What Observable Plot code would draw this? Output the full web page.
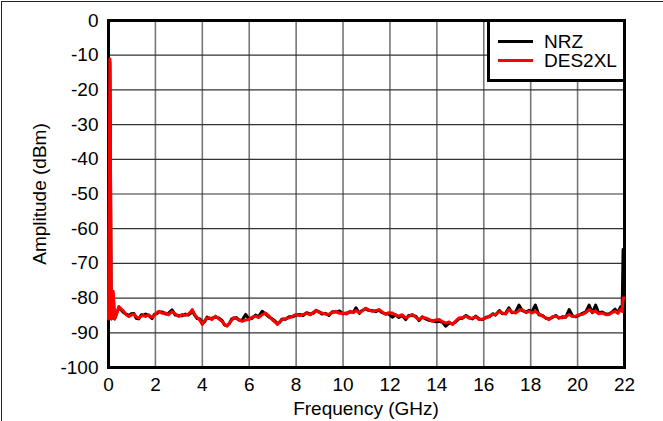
<!DOCTYPE html>
<html>
<head>
<meta charset="utf-8">
<script src="https://cdn.jsdelivr.net/npm/d3@7"></script>
<script src="https://cdn.jsdelivr.net/npm/@observablehq/plot@0.6"></script>
<style>
  html, body { margin: 0; padding: 0; background: #fff; }
  #wrap { position: relative; width: 663px; height: 421px; overflow: hidden; font-family: 'Liberation Sans', Arial, sans-serif; }
  #edge { position: absolute; left: 1px; top: 1px; right: -10px; bottom: -10px; border-top: 1px solid #222; border-left: 1px solid #222; pointer-events: none; }
  #legend { position: absolute; left: 487px; top: 19px; width: 139px; height: 63px; box-sizing: border-box; border: 3px solid #000; background: #fff; }
  #legend .sw { position: absolute; left: 8px; width: 35px; height: 3px; }
  #legend .tx { position: absolute; left: 54px; font-size: 19px; line-height: 19px; color: #000; white-space: nowrap; }
  .axlab { position: absolute; font-size: 19px; line-height: 19px; color: #000; white-space: nowrap; }
  #xlab { left: 366px; top: 399px; transform: translateX(-50%); }
  #ylab { left: 39px; top: 194px; transform: translate(-50%, -50%) rotate(-90deg); }
</style>
</head>
<body>
<div id="wrap">
  <div id="chart"></div>
  <div id="legend">
    <div class="sw" style="top:18px;background:#000"></div>
    <div class="tx" style="top:10px">NRZ</div>
    <div class="sw" style="top:37px;background:#ff0000"></div>
    <div class="tx" style="top:29px">DES2XL</div>
  </div>
  <div class="axlab" id="xlab">Frequency (GHz)</div>
  <div class="axlab" id="ylab">Amplitude (dBm)</div>
  <div id="edge"></div>
</div>
<script>
// Frequency (GHz) sample positions
const freq = [
  0, 0.06, 0.12, 0.2, 0.26, 0.35, 0.44, 0.55, 0.65, 0.75, 0.87, 0.97,
  1.08, 1.18, 1.29, 1.4, 1.5, 1.58, 1.7, 1.86, 1.95,
  2.05, 2.15, 2.3, 2.43, 2.55, 2.71, 2.85,
  3.0, 3.15, 3.28, 3.4, 3.5, 3.57, 3.68, 3.78, 3.9,
  4.0, 4.1, 4.2, 4.28, 4.4, 4.56, 4.7, 4.85, 4.95,
  5.06, 5.15, 5.25, 5.34, 5.45, 5.56, 5.7, 5.85, 5.98,
  6.1, 6.27, 6.4, 6.55, 6.7, 6.85, 6.98,
  7.1, 7.2, 7.3, 7.4, 7.55, 7.7, 7.85,
  8.0, 8.15, 8.3, 8.45, 8.6, 8.75, 8.85,
  9.0, 9.1, 9.25, 9.4, 9.55, 9.7, 9.85,
  10.0, 10.15, 10.3, 10.45, 10.55, 10.7, 10.8, 10.96,
  11.08, 11.24, 11.4, 11.53, 11.67, 11.81, 11.95,
  12.1, 12.24, 12.38, 12.52, 12.67, 12.8, 12.95,
  13.1, 13.24, 13.38, 13.52, 13.66, 13.81, 13.95,
  14.1, 14.24, 14.38, 14.52, 14.67, 14.8, 14.95,
  15.1, 15.24, 15.38, 15.52, 15.66, 15.8, 15.95,
  16.1, 16.24, 16.38, 16.5, 16.67, 16.79, 16.93,
  17.07, 17.2, 17.36, 17.5, 17.64, 17.8, 17.93,
  18.05, 18.2, 18.35, 18.5, 18.64, 18.78, 18.92,
  19.07, 19.2, 19.35, 19.5, 19.64, 19.78, 19.92,
  20.05, 20.2, 20.35, 20.49, 20.63, 20.77, 20.9,
  21.05, 21.2, 21.34, 21.47, 21.6, 21.72, 21.83, 21.9, 21.94, 22.0
];

// NRZ amplitude (dBm)
const nrz = [
  -86, -12, -86, -79, -86, -84.2, -82.8, -83.5, -84.2, -84.6, -85.0, -84.5,
  -84.4, -85.8, -86.0, -84.8, -84.9, -84.6, -85.0, -85.9, -84.7,
  -84.5, -84.0, -84.0, -84.6, -84.4, -83.4, -84.9,
  -85.0, -85.1, -84.6, -84.9, -84.4, -83.8, -85.0, -85.9, -86.0,
  -87.2, -86.8, -85.5, -85.9, -85.8, -85.5, -85.7, -86.5, -87.8,
  -87.8, -87.4, -86.0, -85.9, -85.6, -86.4, -86.3, -84.7, -86.0,
  -85.9, -84.9, -85.3, -83.8, -84.6, -85.5, -86.0,
  -86.6, -87.3, -87.0, -86.0, -86.1, -85.4, -85.4,
  -84.9, -84.7, -85.0, -84.2, -84.6, -84.3, -83.5,
  -84.0, -84.6, -84.4, -85.0, -83.9, -84.0, -83.7,
  -84.5, -84.3, -84.0, -84.0, -82.8, -84.4, -83.6, -83.2,
  -83.5, -83.6, -83.9, -83.5, -84.2, -84.5, -84.6,
  -85.5, -84.8, -85.6, -85.0, -86.2, -85.0, -85.0,
  -85.2, -86.5, -85.4, -86.0, -86.4, -86.5, -86.8,
  -86.7, -87.0, -88.1, -87.2, -87.4, -86.9, -85.9,
  -85.8, -85.0, -85.6, -86.0, -85.2, -86.0, -86.2,
  -85.5, -85.4, -84.5, -84.9, -83.6, -84.5, -84.4,
  -82.8, -84.2, -84.0, -82.0, -83.6, -84.0, -83.5,
  -84.0, -82.0, -84.8, -85.0, -85.8, -86.0, -85.6,
  -85.0, -85.8, -85.4, -85.5, -83.3, -85.1, -85.4,
  -85.0, -84.4, -84.0, -82.0, -84.2, -82.0, -84.3,
  -84.0, -84.6, -84.5, -84.0, -83.2, -84.2, -82.5, -83.4, -66.0, -66.0
];

// DES2XL amplitude (dBm)
const des2xl = [
  -86, -11, -86, -78, -86, -84.5, -82.4, -83.2, -83.8, -84.8, -85.3, -84.9,
  -84.6, -85.4, -85.7, -85.2, -85.0, -85.3, -84.8, -85.6, -85.0,
  -84.2, -83.8, -84.4, -84.3, -84.8, -83.9, -84.6,
  -85.3, -84.7, -85.0, -84.6, -84.0, -83.3, -84.8, -85.6, -86.4,
  -87.6, -86.5, -85.8, -85.6, -86.2, -85.2, -86.0, -86.8, -87.6,
  -88.1, -87.2, -86.4, -85.6, -85.9, -86.2, -86.7, -86.3, -86.2,
  -85.6, -85.2, -85.6, -84.8, -84.3, -85.2, -86.2,
  -86.9, -87.6, -86.8, -86.2, -85.9, -85.7, -85.2,
  -84.7, -85.0, -84.7, -84.4, -84.8, -84.0, -83.6,
  -84.2, -84.3, -84.6, -84.7, -84.1, -83.8, -84.4,
  -84.3, -84.6, -83.8, -84.2, -83.6, -84.2, -83.8, -82.9,
  -83.3, -83.8, -83.6, -83.3, -84.0, -84.7, -84.2,
  -84.3, -84.9, -85.2, -84.8, -85.7, -85.3, -84.7,
  -85.5, -86.2, -85.6, -85.7, -86.1, -86.7, -86.3,
  -86.2, -86.8, -87.2, -86.9, -87.6, -86.6, -85.7,
  -85.6, -85.2, -85.8, -85.7, -85.4, -86.2, -86.0,
  -85.7, -85.2, -84.7, -84.7, -83.9, -84.3, -84.6,
  -83.3, -84.0, -84.3, -83.6, -83.3, -84.2, -83.8,
  -84.3, -83.8, -84.6, -85.2, -85.6, -86.2, -85.4,
  -85.2, -85.6, -85.7, -85.3, -84.7, -85.3, -85.2,
  -84.8, -84.7, -84.2, -83.3, -84.0, -83.8, -84.5,
  -84.3, -84.8, -84.7, -84.2, -83.8, -84.4, -83.3, -83.8, -80.0, -80.0
];

const xTicks = [0, 2, 4, 6, 8, 10, 12, 14, 16, 18, 20, 22];
const yTicks = [-100, -90, -80, -70, -60, -50, -40, -30, -20, -10, 0];

if (freq.length !== nrz.length || freq.length !== des2xl.length) {
  console.error("length mismatch", freq.length, nrz.length, des2xl.length);
}

const nrzData = freq.map((f, i) => ({f, v: nrz[i]}));
const desData = freq.map((f, i) => ({f, v: des2xl[i]}));

const chart = Plot.plot({
  width: 663,
  height: 421,
  marginLeft: 108,
  marginRight: 39,
  marginTop: 20,
  marginBottom: 54,
  style: {
    fontFamily: "'Liberation Sans', Arial, sans-serif",
    fontSize: "19px",
    color: "#000",
    background: "transparent",
    overflow: "visible"
  },
  x: {
    domain: [0, 22],
    ticks: xTicks,
    tickFormat: d => String(d),
    tickSize: 0,
    tickPadding: 10,
    label: null
  },
  y: {
    domain: [-100, 0],
    ticks: yTicks,
    tickFormat: d => String(d),
    tickSize: 0,
    tickPadding: 10,
    label: null
  },
  marks: [
    Plot.ruleX(xTicks, {stroke: "#777", strokeWidth: 1.6}),
    Plot.ruleY(yTicks, {stroke: "#333", strokeWidth: 1.2}),
    Plot.frame({stroke: "#000", strokeWidth: 3}),
    Plot.line(nrzData, {x: "f", y: "v", stroke: "#000", strokeWidth: 3, strokeLinejoin: "round"}),
    Plot.line(desData, {x: "f", y: "v", stroke: "#ff0000", strokeWidth: 3, strokeLinejoin: "round"})
  ]
});
document.getElementById("chart").appendChild(chart);
</script>
</body>
</html>
